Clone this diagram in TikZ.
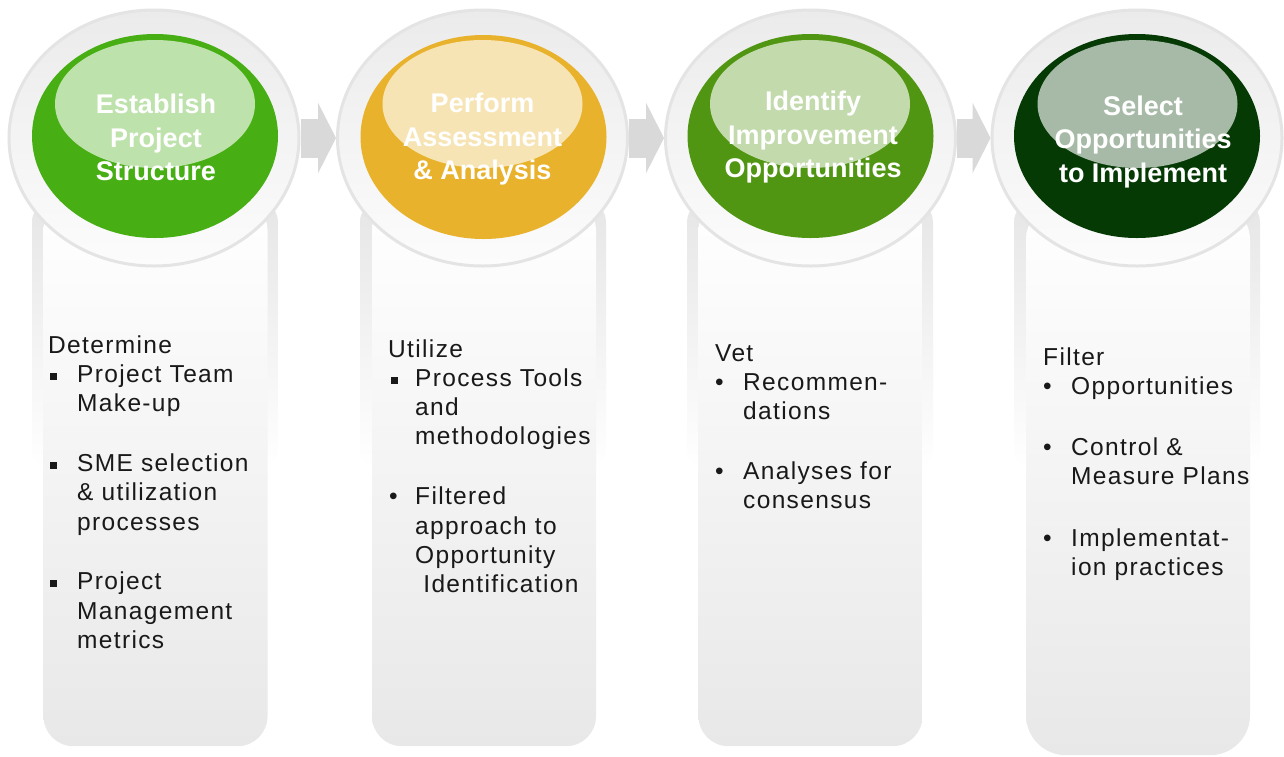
\documentclass[tikz,border=0pt]{standalone}
\usepackage{fontspec}
\setmainfont{Liberation Sans}
\newfontfamily\bodyfont[LetterSpace=5.5]{Liberation Sans}
\usetikzlibrary{shapes.geometric,arrows.meta}
\definecolor{cA}{RGB}{71,174,20}
\definecolor{cB}{RGB}{233,178,44}
\definecolor{cC}{RGB}{81,150,18}
\definecolor{cD}{RGB}{5,58,5}
\definecolor{ringline}{RGB}{228,228,228}
\definecolor{ringtop}{RGB}{235,235,235}
\definecolor{ringbot}{RGB}{252,252,252}
\definecolor{frametop}{RGB}{230,230,230}
\definecolor{colbot}{RGB}{232,232,232}
\definecolor{arrowc}{RGB}{217,217,217}
\definecolor{bodytext}{RGB}{25,25,25}
\newcommand\sqb{\makebox[29pt][l]{\hspace{2pt}\raisebox{2.5pt}{\rule{7pt}{7pt}}}}
\newcommand\rdb{\makebox[28pt][l]{\textbullet}}
\begin{document}
\begin{tikzpicture}[x=1pt,y=-1pt,
  frame/.style={rectangle,rounded corners=22pt,minimum width=246pt,minimum height=270pt,anchor=north,top color=frametop,bottom color=white,inner sep=0pt},
  colbody/.style={rectangle,rounded corners=30pt,minimum width=224pt,anchor=north,top color=white,bottom color=colbot,inner sep=0pt},
  ring/.style={ellipse,minimum width=290pt,minimum height=256pt,inner sep=0pt,draw=ringline,line width=3pt,top color=ringtop,bottom color=ringbot},
  disc/.style={ellipse,minimum width=246pt,minimum height=204pt,inner sep=0pt},
  shine/.style={ellipse,minimum width=200pt,minimum height=128pt,inner sep=0pt,fill=white,fill opacity=0.65},
  title/.style={align=center,text=white,font=\bfseries\fontsize{27}{33.5}\selectfont,inner sep=0pt},
  body/.style={anchor=base west,inner sep=0pt,text=bodytext,font=\bodyfont\fontsize{24.5}{29.3}\selectfont},
  flow/.style={draw=arrowc,line width=39pt,-{Triangle[length=18pt,width=70pt]}}
]
\useasboundingbox (0,0) rectangle (1284,756);
\fill[white] (0,0) rectangle (1284,756);
% frames and column bodies
\node[frame] (f1) at (155,200) {};
\node[frame] (f2) at (483,200) {};
\node[frame] (f3) at (810,200) {};
\node[frame] (f4) at (1137,200) {};
\node[colbody,minimum height=546pt] (b1) at (155.5,200) {};
\node[colbody,minimum height=546pt] (b2) at (484,200) {};
\node[colbody,minimum height=546pt] (b3) at (810.5,200) {};
\node[colbody,minimum height=555pt,rounded corners=40pt] (b4) at (1138,200) {};
% rings
\node[ring] (r1) at (154,138) {};
\node[ring] (r2) at (482.5,138) {};
\node[ring] (r3) at (810.5,138) {};
\node[ring] (r4) at (1137,138) {};
% arrows
\draw[flow] (r1) -- (r2);
\draw[flow] (r2) -- (r3);
\draw[flow] (r3) -- (r4);
% discs
\node[disc,fill=cA] (d1) at (155,136) {};
\node[disc,fill=cB] (d2) at (483.5,137) {};
\node[disc,fill=cC] (d3) at (810.5,136) {};
\node[disc,fill=cD] (d4) at (1137,136) {};
\node[shine] (h1) at (155,104) {};
\node[shine] (h2) at (482.5,104) {};
\node[shine] (h3) at (810,104) {};
\node[shine] (h4) at (1137.5,104) {};
% titles
\node[title] (t1) at (156,137.5) {Establish\\Project\\Structure};
\node[title] (t2) at (482.5,139.5) {Perform\\Assessment\\\& Analysis};
\node[title] (t3) at (813,137.5) {Identify\\Improvement\\Opportunities};
\node[title] (t4) at (1143,142) {Select\\Opportunities\\to Implement};
% body texts
\node[body] (x1) at (48,353) {\begin{tabular}[t]{@{}l@{}l@{}}
\multicolumn{2}{@{}l@{}}{Determine}\\
\sqb & Project Team\\
 & Make-up\\[30.5pt]
\sqb & SME selection\\
 & \& utilization\\
 & processes\\[30.5pt]
\sqb & Project\\
 & Management\\
 & metrics
\end{tabular}};
\node[body] (x2) at (388,357) {\begin{tabular}[t]{@{}l@{}l@{}}
\multicolumn{2}{@{}l@{}}{Utilize}\\
\makebox[27pt][l]{\hspace{3pt}\raisebox{2.5pt}{\rule{7pt}{7pt}}} & Process Tools\\
 & and\\
 & methodologies\\[30.5pt]
\makebox[27pt][l]{\hspace{1pt}\textbullet} & Filtered\\
 & approach to\\
 & Opportunity\\
 & \ Identification
\end{tabular}};
\node[body] (x3) at (715,361) {\begin{tabular}[t]{@{}l@{}l@{}}
\multicolumn{2}{@{}l@{}}{Vet}\\
\rdb & Recommen-\\
 & dations\\[30.5pt]
\rdb & Analyses for\\
 & consensus
\end{tabular}};
\node[body] (x4) at (1043,365) {\begin{tabular}[t]{@{}l@{}l@{}}
\multicolumn{2}{@{}l@{}}{Filter}\\
\rdb & Opportunities\\[32pt]
\rdb & Control \&\\
 & Measure Plans\\[32pt]
\rdb & Implementat-\\
 & ion practices
\end{tabular}};
\end{tikzpicture}
\end{document}
